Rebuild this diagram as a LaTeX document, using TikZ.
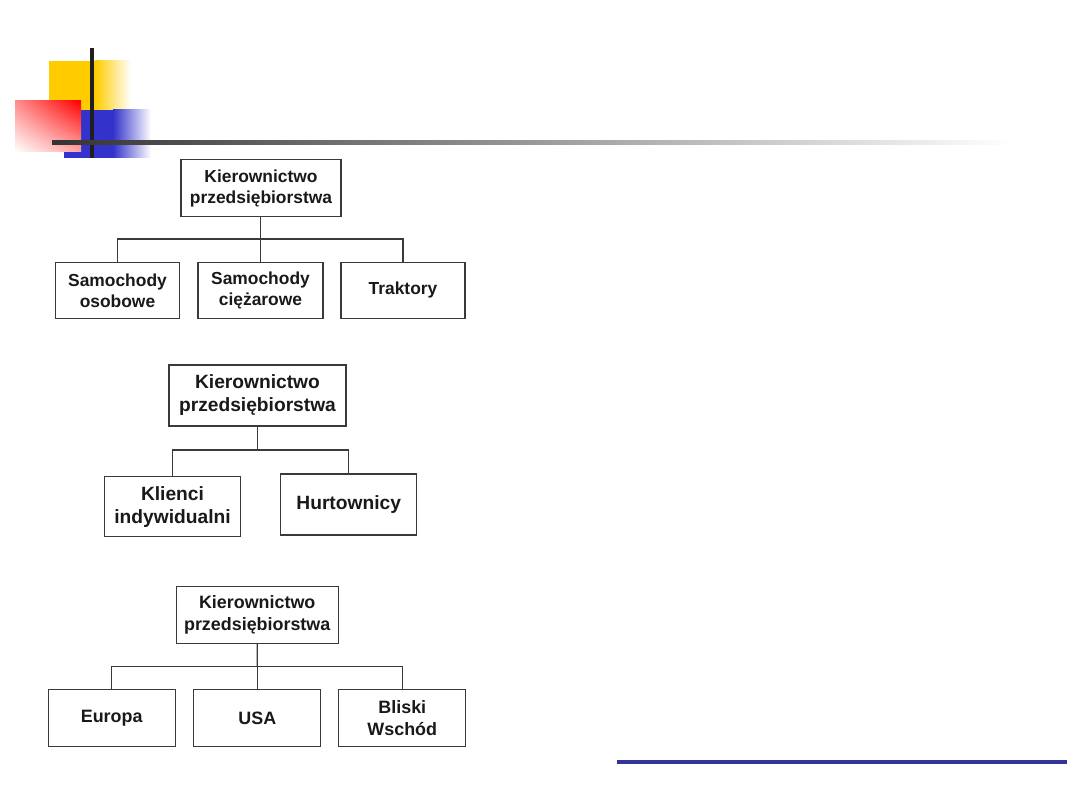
\documentclass[tikz,border=0pt]{standalone}
\usepackage{fontspec}
\setmainfont{Liberation Sans}
\usetikzlibrary{shadings}
\definecolor{decoyellow}{HTML}{FFCC00}
\definecolor{decoblue}{HTML}{3333CC}
\definecolor{decored}{HTML}{FF0000}
\definecolor{footblue}{HTML}{333399}
\definecolor{linegray}{HTML}{333333}
\definecolor{boxline}{HTML}{3A3A3A}
\begin{document}
\begin{tikzpicture}[x=1pt,y=-1pt,
  orgbox/.style={draw=boxline,line width=1.3pt,fill=white,align=center,inner sep=2pt,text=black!90},
  fA/.style={font=\bfseries\fontsize{17.4}{21}\selectfont},
  fB/.style={font=\bfseries\fontsize{19.2}{23}\selectfont},
  fC/.style={font=\bfseries\fontsize{17.9}{21.5}\selectfont},
  conn/.style={draw=boxline,line width=1.3pt}]
\useasboundingbox (0,0) rectangle (1080,810);
% decoration
\fill[decoyellow] (49,61) rectangle (95,110);
\shade[left color=decoyellow,right color=white] (95,61) rectangle (131,110);
\fill[decoblue] (64,110) rectangle (113,158);
\shade[left color=decoblue,right color=white] (113,110) rectangle (151,158);
\shade[upper right=decored,upper left=decored!45,lower right=decored!35,lower left=white] (15,101) rectangle (81,152);
\fill[black!88] (90,48) rectangle (94,158);
\shade[left color=linegray,right color=white] (52,141) rectangle (1012,145);
\fill[footblue] (617,760) rectangle (1067,764);
% diagram 1
\node[orgbox,fA,minimum width=160pt,minimum height=57pt] (t1) at (261,188.3) {Kierownictwo\\przedsiębiorstwa};
\node[orgbox,fA,minimum width=124pt,minimum height=56pt] (a1) at (117.5,290.3) {Samochody\\osobowe};
\node[orgbox,fA,minimum width=125pt,minimum height=56pt] (b1) at (260.5,290.3) {Samochody\\ciężarowe};
\node[orgbox,fA,minimum width=124pt,minimum height=56pt] (c1) at (403,290.3) {Traktory};
\coordinate (j1) at (260.5,239);
\draw[conn] (t1.south -| j1) -- (j1);
\draw[conn] (a1.north) |- (j1) -| (c1.north);
\draw[conn] (b1.north) -- (b1.north |- j1);
% diagram 2
\node[orgbox,fB,minimum width=177pt,minimum height=61pt] (t2) at (257.5,395.5) {Kierownictwo\\przedsiębiorstwa};
\node[orgbox,fB,minimum width=136pt,minimum height=60pt] (a2) at (172.5,506.7) {Klienci\\indywidualni};
\node[orgbox,fB,minimum width=136pt,minimum height=61pt] (b2) at (348.7,504.5) {Hurtownicy};
\coordinate (j2) at (257.5,450);
\draw[conn] (t2.south) -- (j2);
\draw[conn] (a2.north) |- (j2) -| (b2.north);
% diagram 3
\node[orgbox,fC,minimum width=162pt,minimum height=57pt] (t3) at (257.2,614.7) {Kierownictwo\\przedsiębiorstwa};
\node[orgbox,fC,minimum width=127pt,minimum height=57pt] (a3) at (111.7,718.3) {Europa};
\node[orgbox,fC,minimum width=127pt,minimum height=57pt] (b3) at (257.3,718.3) {USA};
\node[orgbox,fC,minimum width=127pt,minimum height=57pt] (c3) at (402.3,718.3) {Bliski\\Wschód};
\coordinate (j3) at (257.3,666.7);
\draw[conn] (t3.south) -- (j3);
\draw[conn] (a3.north) |- (j3) -| (c3.north);
\draw[conn] (b3.north) -- (b3.north |- j3);
\end{tikzpicture}
\end{document}
